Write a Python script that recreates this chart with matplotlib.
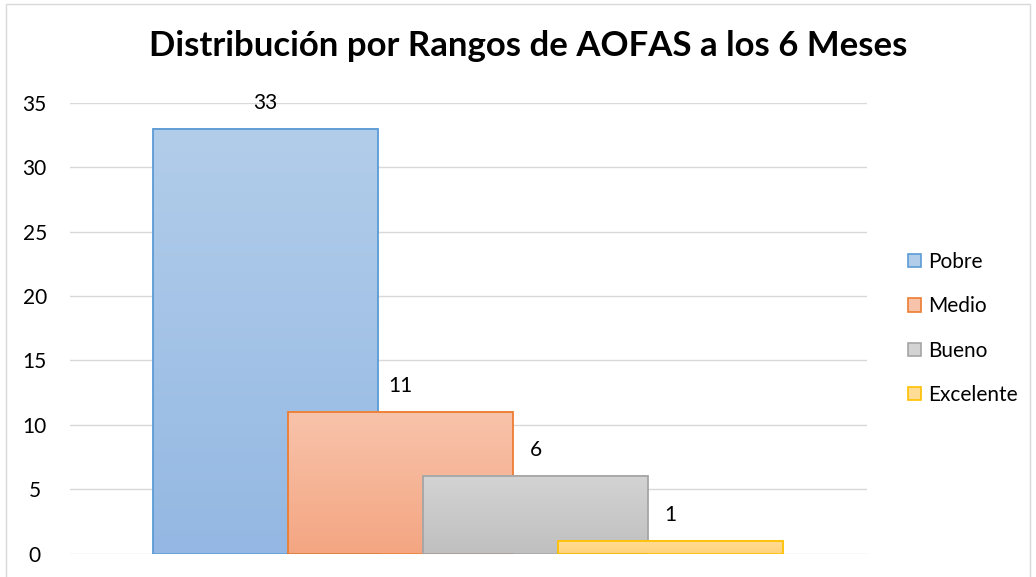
import matplotlib
matplotlib.use("Agg")
import matplotlib.pyplot as plt
import numpy as np
from matplotlib.patches import Rectangle
from matplotlib.colors import to_rgb

title = "Distribución por Rangos de AOFAS a los 6 Meses"
series = ["Pobre", "Medio", "Bueno", "Excelente"]
values = [33, 11, 6, 1]
yticks = [0, 5, 10, 15, 20, 25, 30, 35]
edge_colors = ["#5B9BD5", "#ED7D31", "#A5A5A5", "#FFC000"]
top_colors = ["#B2CDEA", "#F8C3AB", "#D3D3D3", "#FFDC95"]
bottom_colors = ["#94B8E3", "#F4A682", "#C0C0C0", "#FFD37E"]

FONT = "Lato"
FS = 15
W, H = 1036, 577
fig = plt.figure(figsize=(W / 100, H / 100), dpi=100)
ax = fig.add_axes([69.5 / W, (H - 553.5) / H, (866.7 - 69.5) / W, (553.5 - 103) / H])

width = 225 / 135
n = len(series)
xs = np.arange(n)
half = (866.7 - 69.5) / 2 / 135

for i, (x, v) in enumerate(zip(xs, values)):
    x0, x1 = x - width / 2, x + width / 2
    c_top = np.array(to_rgb(top_colors[i]))
    c_bot = np.array(to_rgb(bottom_colors[i]))
    t = np.linspace(0, 1, 64)[:, None]
    grad = (c_top[None, :] * (1 - t) + c_bot[None, :] * t)[:, None, :]
    ax.imshow(grad, extent=(x0, x1, 0, v), origin="upper", aspect="auto",
              zorder=2 + 2 * i, interpolation="bilinear")
    ax.add_patch(Rectangle((x0, 0), width, v, fill=False, edgecolor=edge_colors[i],
                           linewidth=1.3, zorder=2.5 + 2 * i))
    ax.annotate(str(v), (x, v), xytext=(0, 26), textcoords="offset pixels",
                ha="center", va="center", fontsize=FS, family=FONT,
                color="#000000", zorder=20, annotation_clip=False)

ax.set_xlim((n - 1) / 2 - half, (n - 1) / 2 + half)
ax.set_ylim(0, 35)
ax.set_yticks(yticks)
ax.set_yticklabels([str(y) for y in yticks], family=FONT, fontsize=FS)
ax.set_xticks([])
ax.tick_params(axis="y", length=0, pad=25)
for lab in ax.get_yticklabels():
    lab.set_horizontalalignment("center")
for s in ax.spines.values():
    s.set_visible(False)
ax.grid(axis="y", color="#D9D9D9", linewidth=1.0, zorder=0)
ax.set_axisbelow(True)

fig.text(528 / W, 1 - 46 / H, title, ha="center", va="center", fontsize=25,
         fontweight="bold", family=FONT, color="#000000")

handles = [Rectangle((0, 0), 1, 1, facecolor=top_colors[i], edgecolor=edge_colors[i], linewidth=1.2)
           for i in range(n)]
leg = fig.legend(handles, series, loc="center left", bbox_to_anchor=(908 / W, 1 - 328.5 / H),
                 frameon=False, prop={"family": FONT, "size": FS},
                 borderpad=0, borderaxespad=0,
                 handlelength=0.62, handleheight=0.62, handletextpad=0.34, labelspacing=1.17)

# chart border
border = Rectangle((6 / W, -0.01), (1030 - 6) / W, (H - 4) / H + 0.01, transform=fig.transFigure,
                   fill=False, edgecolor="#D9D9D9", linewidth=1.0)
fig.add_artist(border)

fig.savefig("out.png", dpi=100)
